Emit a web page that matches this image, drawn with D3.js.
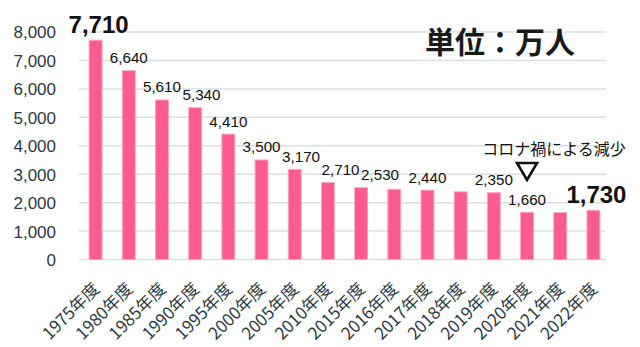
<!DOCTYPE html>
<html>
<head>
<meta charset="utf-8">
<script src="https://cdn.jsdelivr.net/npm/d3@7"></script>
<style>
html,body{margin:0;padding:0;background:#fff;}
svg{display:block;}
</style>
</head>
<body>
<svg id="chart" width="640" height="347"></svg>
<script>
const categories = ["1975年度","1980年度","1985年度","1990年度","1995年度","2000年度","2005年度","2010年度","2015年度","2016年度","2017年度","2018年度","2019年度","2020年度","2021年度","2022年度"];
const values = [7710,6640,5610,5340,4410,3500,3170,2710,2530,2470,2440,2380,2350,1660,1650,1730];
const labelled = [true,true,true,true,true,true,true,true,true,false,true,false,true,true,false,true];
const emphasised = ["1975年度","2022年度"];
const yTicks = [0,1000,2000,3000,4000,5000,6000,7000,8000];
const unitTitle = "単位：万人";
const noteText = "コロナ禍による減少";
const noteCategory = "2020年度";

const svg = d3.select("#chart");
const fmt = d3.format(",");
const x = d3.scaleBand().domain(categories).range([79, 610]).paddingInner(0.61).paddingOuter(0.305);
const y = d3.scaleLinear().domain([0, 8000]).range([259.5, 32]);

// gridlines
svg.append("g").selectAll("line").data(yTicks).join("line")
  .attr("x1", 79).attr("x2", 606)
  .attr("y1", d => y(d)).attr("y2", d => y(d))
  .attr("stroke", "#d8dfdf").attr("stroke-width", 1.5);

// y axis labels
const yAxis = d3.axisLeft(y).tickValues(yTicks).tickFormat(fmt).tickSize(0).tickPadding(0);
const yg = svg.append("g").attr("transform", "translate(56,0)").call(yAxis);
yg.select(".domain").remove();
yg.selectAll("text").attr("font-family", "Liberation Sans, Arial, sans-serif")
  .attr("font-size", 17).attr("fill", "#2c3940").attr("dy", "0.35em");

// bars
svg.append("g").selectAll("rect").data(values).join("rect")
  .attr("x", (d, i) => x(categories[i]))
  .attr("y", d => y(d))
  .attr("width", x.bandwidth())
  .attr("height", d => y(0) - y(d))
  .attr("fill", "#fc5b91")
  .attr("stroke", "#fca6c3").attr("stroke-width", 1);

// x axis labels
const xAxis = d3.axisBottom(x).tickSize(0).tickPadding(0);
const xg = svg.append("g").attr("transform", "translate(0,262)").call(xAxis);
xg.select(".domain").remove();
xg.selectAll("text")
  .attr("font-family", "Noto Sans CJK JP, sans-serif")
  .attr("font-size", 17).attr("fill", "#2c3940")
  .attr("text-anchor", "end")
  .attr("transform", "translate(5,28) rotate(-45)")
  .attr("dy", 0).attr("y", 0);

// value labels
const labels = svg.append("g").selectAll("text")
  .data(values.map((v, i) => ({v, c: categories[i], show: labelled[i]})).filter(d => d.show))
  .join("text")
  .attr("x", d => x(d.c) + x.bandwidth() / 2 + (emphasised.includes(d.c) ? 3 : 0))
  .attr("y", d => y(d.v) - 7.5)
  .attr("text-anchor", "middle")
  .attr("font-family", "Liberation Sans, Arial, sans-serif")
  .attr("font-size", d => emphasised.includes(d.c) ? 24 : 15.2)
  .attr("font-weight", d => emphasised.includes(d.c) ? "bold" : "normal")
  .attr("fill", "#111")
  .text(d => fmt(d.v));

// simple left-to-right collision avoidance for value labels
let prev = null;
labels.each(function(d) {
  const el = d3.select(this);
  const bb = this.getBBox();
  if (prev) {
    const overlapY = !(bb.y > prev.y + prev.height || bb.y + bb.height < prev.y);
    if (overlapY && bb.x < prev.x + prev.width + 1.5) {
      const shift = prev.x + prev.width + 1.5 - bb.x;
      el.attr("x", +el.attr("x") + shift);
    }
  }
  prev = this.getBBox();
});

// title
svg.append("text").attr("x", 425).attr("y", 53)
  .attr("font-family", "Noto Sans CJK JP, sans-serif")
  .attr("font-size", 30).attr("font-weight", "bold").attr("fill", "#1a1a1a")
  .text(unitTitle);

// annotation
const nx = x(noteCategory) + x.bandwidth() / 2;
svg.append("text").attr("x", 554).attr("y", 155)
  .attr("text-anchor", "middle")
  .attr("font-family", "Noto Sans CJK JP, sans-serif")
  .attr("font-size", 16).attr("fill", "#111")
  .text(noteText);
svg.append("path")
  .attr("d", `M${nx - 10},${163} L${nx + 10},${163} L${nx},${180} Z`)
  .attr("fill", "#fff").attr("stroke", "#111").attr("stroke-width", 2.6)
  .attr("stroke-linejoin", "miter");
</script>
</body>
</html>
